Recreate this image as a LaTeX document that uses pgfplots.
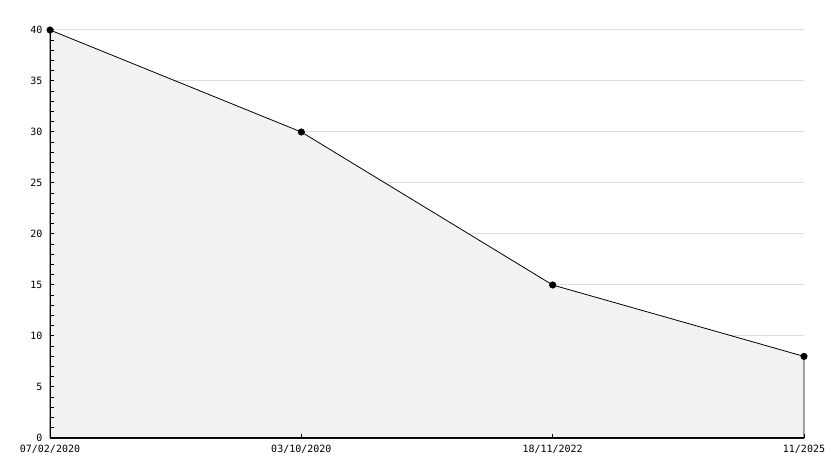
\documentclass[border=0pt]{standalone}
\usepackage{fontspec}
\setmainfont{DejaVu Sans Mono}
\usepackage{pgfplots}
\pgfplotsset{compat=1.18}
\definecolor{fillgray}{HTML}{F2F2F2}
\definecolor{gridgray}{HTML}{DDDDDD}
\pgfplotsset{common/.style={
  at={(0,0)}, anchor=origin,
  scale only axis, width=754pt, height=408pt,
  xmin=0, xmax=3, ymin=0, ymax=40,
  axis x line=bottom, axis y line=left,
  axis line style={-, black, line width=1pt},
  xtick={0,1,2,3},
  ytick={0,5,...,40},
  clip=false,
}}
\begin{document}
\begin{tikzpicture}[x=1pt,y=1pt]
\useasboundingbox (-50,-30) rectangle (784,438);
\begin{axis}[common,
  xticklabels={07/02/2020,03/10/2020,18/11/2022,11/2025},
  ymajorgrids,
  major grid style={gridgray, line width=1pt},
  major tick length=0pt,
  /pgf/number format/assume math mode=true,
  ticklabel style={font=\fontsize{10}{12}\selectfont},
  yticklabel style={xshift=-4pt},
  xticklabel style={yshift=-4pt},
]
\addplot[draw=black, line width=0.8pt, fill=fillgray, mark=none] coordinates {(0,40) (1,30) (2,15) (3,8)} \closedcycle;
\end{axis}
\begin{axis}[common,
  xticklabels={}, yticklabels={},
  minor y tick num=4,
  tick style={black, line width=1pt},
  major tick length=4pt, minor tick length=4pt,
  tick align=inside,
]
\addplot[only marks, mark=*, mark size=3.3pt, black] coordinates {(0,40) (1,30) (2,15) (3,8)};
\end{axis}
\end{tikzpicture}
\end{document}
